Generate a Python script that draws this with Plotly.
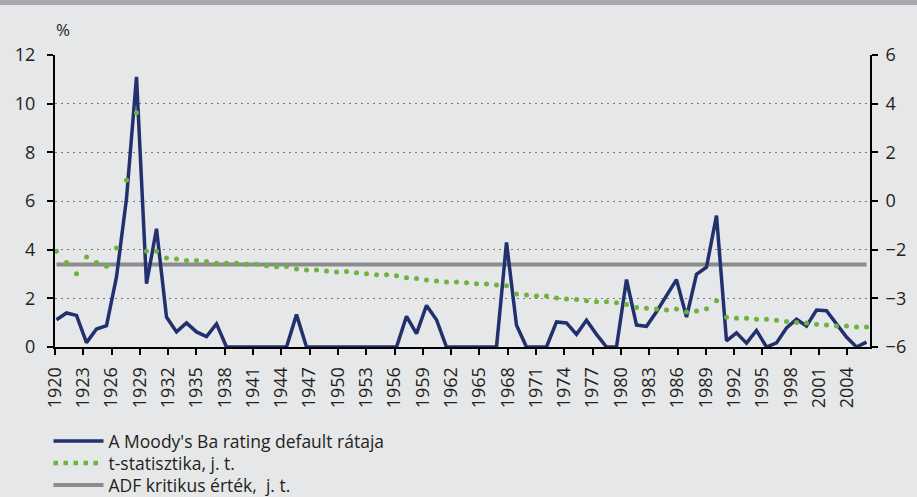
import plotly.graph_objects as go

# ---------------- data ----------------
# year labels of the horizontal axis
years = list(range(1920, 2007))
year_ticks = list(range(1920, 2005, 3))

# 82 evenly spaced observations
obs = list(range(82))

# Moody's Ba default rate, %
default_rate = [1.12, 1.40, 1.30, 0.18, 0.74, 0.88, 2.88, 6.1, 11.1, 2.6,
                4.86, 1.23, 0.62, 0.99, 0.62, 0.43, 0.95, 0, 0, 0,
                0, 0, 0, 0, 1.33, 0, 0, 0, 0, 0,
                0, 0, 0, 0, 0, 1.26, 0.55, 1.71, 1.12, 0,
                0, 0, 0, 0, 0, 4.3, 0.89, 0, 0, 0,
                1.03, 0.99, 0.52, 1.10, 0.52, 0, 0, 2.77, 0.90, 0.85,
                1.45, 2.1, 2.77, 1.23, 2.99, 3.28, 5.4, 0.25, 0.58, 0.16,
                0.68, 0, 0.17, 0.78, 1.14, 0.86, 1.52, 1.49, 0.96, 0.41,
                0, 0.2]

# t-statistic (right axis)
t_stat = [-2.07, -2.53, -2.99, -2.30, -2.53, -2.68, -1.93, 0.85, 3.63, -2.07,
          -2.07, -2.34, -2.38, -2.45, -2.45, -2.49, -2.56, -2.56, -2.56, -2.60,
          -2.60, -2.66, -2.70, -2.69, -2.79, -2.84, -2.84, -2.88, -2.92, -2.90,
          -2.95, -2.99, -3.03, -3.03, -3.07, -3.15, -3.18, -3.25, -3.29, -3.33,
          -3.33, -3.36, -3.40, -3.41, -3.45, -3.48, -3.82, -3.86, -3.90, -3.90,
          -3.99, -4.03, -4.05, -4.10, -4.14, -4.14, -4.18, -4.25, -4.38, -4.41,
          -4.44, -4.48, -4.44, -4.56, -4.52, -4.43, -4.10, -4.78, -4.82, -4.82,
          -4.86, -4.86, -4.90, -4.95, -4.99, -5.01, -5.07, -5.10, -5.14, -5.14,
          -5.18, -5.18]

# ADF critical value (right axis)
adf_value = -2.61
adf_line = [adf_value] * len(obs)

# left / right axis ticks
left_ticks = [0, 2, 4, 6, 8, 10, 12]
right_tickvals = [-6, -4, -2, 0, 2, 4, 6]
right_ticktext = ["\u22126", "\u22123", "\u22122", "0", "2", "4", "6"]

names = ["A Moody's Ba rating default rátaja", "t-statisztika, j. t.", "ADF kritikus érték,  j. t."]

# ---------------- style ----------------
BG = "#E6E7E8"
NAVY = "#22306E"
GREEN = "#6DB33F"
GREY = "#8C8C8C"
TXT = "#231F20"
FONT = "Open Sans"
FS = 18
LFS = 17.5

fig = go.Figure()

# ADF critical value line (main subplot, lowest layer)
fig.add_trace(go.Scatter(x=obs, y=adf_line, mode="lines", name=names[2],
                         line=dict(color=GREY, width=4), xaxis="x", yaxis="y",
                         legend="legend3", hoverinfo="skip"))
# default rate (left axis)
fig.add_trace(go.Scatter(x=obs, y=default_rate, mode="lines", name=names[0],
                         line=dict(color=NAVY, width=3.5), xaxis="x", yaxis="y2",
                         legend="legend"))
# t-statistic points (on top)
fig.add_trace(go.Scatter(x=obs, y=t_stat, mode="markers", name=names[1],
                         marker=dict(color=GREEN, size=5), xaxis="x", yaxis="y3",
                         showlegend=False))
# legend entry for the dotted series
fig.add_trace(go.Scatter(x=[None], y=[None], mode="lines", name=names[1],
                         line=dict(color=GREEN, width=4.5, dash="4.5px,5.5px"),
                         xaxis="x", yaxis="y3", legend="legend2"))
# year axis carrier
fig.add_trace(go.Scatter(x=years, y=[None] * len(years), mode="lines",
                         xaxis="x2", yaxis="y", showlegend=False, hoverinfo="skip"))

L, R, T, B = 55, 47, 55, 150
W, H = 917, 497
pw = W - L - R
ph = H - T - B
year_px = 9.432
x2_range = [1920, 1920 + pw / year_px]
x_range = [(L - 56.5) / 10.0, (W - R - 56.5) / 10.0]

axis_common = dict(showline=True, linecolor="black", linewidth=2,
                   ticks="outside", ticklen=6, tickwidth=2, tickcolor="black",
                   tickfont=dict(family=FONT, size=FS, color=TXT), zeroline=False)


def legend_at(row_center_px):
    return dict(x=-0.008, y=-(row_center_px - (H - B)) / ph, xanchor="left",
                yanchor="middle", bgcolor="rgba(0,0,0,0)",
                font=dict(family=FONT, size=LFS, color=TXT), itemwidth=50)


fig.update_layout(
    width=W, height=H,
    margin=dict(l=L, r=R, t=T, b=B, autoexpand=False),
    paper_bgcolor=BG, plot_bgcolor=BG,
    font=dict(family=FONT, size=FS, color=TXT),
    showlegend=True,
    legend=legend_at(441),
    legend2=legend_at(463),
    legend3=legend_at(485),
    xaxis=dict(range=x_range, visible=False, showgrid=False),
    xaxis2=dict(range=x2_range, overlaying="x", anchor="y", side="bottom",
                tickmode="array", tickvals=year_ticks, ticktext=[str(y) for y in year_ticks],
                tickangle=-90, showgrid=False, ticklabelstandoff=5, **axis_common),
    yaxis=dict(range=[-6, 6], side="right", anchor="x", tickmode="array",
               tickvals=right_tickvals, ticktext=right_ticktext,
               showgrid=True, gridcolor="#7A7A7A", gridwidth=1, griddash="2px,4px",
               ticklabelstandoff=4, **axis_common),
    yaxis2=dict(range=[0, 12], overlaying="y", side="left", anchor="x",
                tickmode="array", tickvals=left_ticks, showgrid=False,
                ticklabelstandoff=8, **axis_common),
    yaxis3=dict(range=[-6, 6], overlaying="y", visible=False, showgrid=False),
    annotations=[dict(text="%", xref="paper", yref="paper", x=(62.5 - L) / pw,
                      y=1 + (T - 30) / ph, xanchor="center", yanchor="middle",
                      showarrow=False, font=dict(family=FONT, size=17, color=TXT))],
    shapes=[dict(type="rect", xref="paper", yref="paper", x0=-0.2, x1=1.2,
                 y0=1 + (T - 5) / ph, y1=1 + (T + 5) / ph,
                 fillcolor="#A7A9AC", line=dict(width=0), layer="above")],
)

fig.write_html("out.html", config={"displayModeBar": False},
               post_script="document.body.style.margin='0';document.body.style.overflow='hidden';")
